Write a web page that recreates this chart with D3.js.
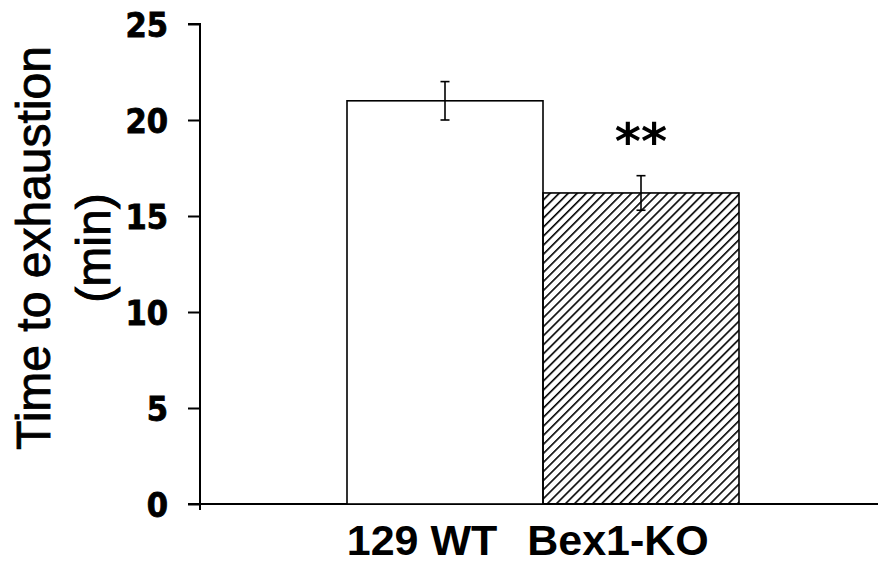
<!DOCTYPE html>
<html>
<head>
<meta charset="utf-8">
<script src="https://cdnjs.cloudflare.com/ajax/libs/d3/7.8.5/d3.min.js"></script>
<style>
  body { margin: 0; background: #fff; }
  svg { display: block; }
</style>
</head>
<body>
<svg id="chart"></svg>
<script>
const groups = ['129 WT', 'Bex1-KO']
const means = [21.0, 16.2]
const errors = [1.0, 0.9]
const yTicks = [0, 5, 10, 15, 20, 25]
const stars = ['', '**']

const width = 878, height = 565

const svg = d3.select('#chart')
  .attr('width', width)
  .attr('height', height)

// hatch for the KO bar
const defs = svg.append('defs')
defs.append('pattern')
  .attr('id', 'hatch')
  .attr('patternUnits', 'userSpaceOnUse')
  .attr('width', 6.4)
  .attr('height', 6.4)
  .attr('patternTransform', 'rotate(45)')
  .append('line')
  .attr('x1', 0).attr('y1', -1)
  .attr('x2', 0).attr('y2', 7.4)
  .attr('stroke', '#000')
  .attr('stroke-width', 3.2)

const yScale = d3.scaleLinear()
  .domain([0, 25])
  .range([504, 24])

const xScale = d3.scaleBand()
  .domain(groups)
  .range([347, 739])
  .padding(0)

const axisX = 200

// y-axis
const yAxis = svg.append('g')
  .attr('transform', `translate(${axisX}, 0)`)
  .call(d3.axisLeft(yScale).tickValues(yTicks).tickSize(12).tickPadding(20))
yAxis.select('.domain')
  .attr('d', `M-12,${yScale(25)}H0V${yScale(0)}`)
  .attr('stroke-width', 2)
yAxis.selectAll('.tick line').attr('stroke-width', 2)
yAxis.selectAll('.tick text')
  .attr('font-family', 'DejaVu Sans Condensed, DejaVu Sans')
  .attr('font-stretch', 'condensed')
  .attr('font-weight', 'bold')
  .attr('font-size', 34)
  .attr('dy', '0.36em')
  .attr('fill', '#000')
  .attr('stroke', '#000')
  .attr('stroke-width', 0.8)

// x-axis line
svg.append('line')
  .attr('x1', axisX - 12).attr('x2', width)
  .attr('y1', yScale(0)).attr('y2', yScale(0))
  .attr('stroke', '#000')
  .attr('stroke-width', 2.2)
svg.append('line')
  .attr('x1', axisX).attr('x2', axisX)
  .attr('y1', yScale(0)).attr('y2', yScale(0) + 6)
  .attr('stroke', '#000')
  .attr('stroke-width', 2)

// bars
svg.selectAll('.bar')
  .data(means)
  .enter()
  .append('rect')
  .attr('class', 'bar')
  .attr('x', (d, i) => xScale(groups[i]))
  .attr('y', d => yScale(d))
  .attr('width', xScale.bandwidth())
  .attr('height', d => yScale(0) - yScale(d))
  .attr('fill', (d, i) => i === 0 ? '#fff' : 'url(#hatch)')
  .attr('stroke', '#000')
  .attr('stroke-width', 1.6)

// error bars
const errG = svg.selectAll('.err')
  .data(means)
  .enter()
  .append('g')
  .attr('class', 'err')
  .attr('stroke', '#000')
  .attr('stroke-width', 1.6)
errG.append('line')
  .attr('x1', (d, i) => xScale(groups[i]) + xScale.bandwidth() / 2)
  .attr('x2', (d, i) => xScale(groups[i]) + xScale.bandwidth() / 2)
  .attr('y1', (d, i) => yScale(d + errors[i]))
  .attr('y2', (d, i) => yScale(d - errors[i]))
errG.append('line')
  .attr('x1', (d, i) => xScale(groups[i]) + xScale.bandwidth() / 2 - 4.5)
  .attr('x2', (d, i) => xScale(groups[i]) + xScale.bandwidth() / 2 + 4.5)
  .attr('y1', (d, i) => yScale(d + errors[i]))
  .attr('y2', (d, i) => yScale(d + errors[i]))
errG.append('line')
  .attr('x1', (d, i) => xScale(groups[i]) + xScale.bandwidth() / 2 - 4.5)
  .attr('x2', (d, i) => xScale(groups[i]) + xScale.bandwidth() / 2 + 4.5)
  .attr('y1', (d, i) => yScale(d - errors[i]))
  .attr('y2', (d, i) => yScale(d - errors[i]))

// significance stars
svg.selectAll('.star')
  .data(means)
  .enter()
  .append('text')
  .attr('class', 'star')
  .attr('x', (d, i) => xScale(groups[i]) + xScale.bandwidth() / 2)
  .attr('y', (d, i) => yScale(d + errors[i]) - 17)
  .attr('text-anchor', 'middle')
  .attr('font-family', 'DejaVu Sans')
  .attr('font-weight', 'bold')
  .attr('font-size', 50)
  .text((d, i) => stars[i])

// category labels
svg.selectAll('.cat')
  .data(groups)
  .enter()
  .append('text')
  .attr('class', 'cat')
  .attr('x', d => xScale(d) + xScale.bandwidth() / 2 - 23)
  .attr('y', 555)
  .attr('text-anchor', 'middle')
  .attr('font-family', 'Liberation Sans, Arial, sans-serif')
  .attr('font-weight', 'bold')
  .attr('font-size', 43)
  .text(d => d)

// y-axis title
const title = svg.append('text')
  .attr('transform', `translate(50, 248) rotate(-90)`)
  .attr('text-anchor', 'middle')
  .attr('font-family', 'Liberation Sans, Arial, sans-serif')
  .attr('font-size', 48)
  .attr('stroke', '#000')
  .attr('stroke-width', 0.9)
title.append('tspan').attr('x', 0).attr('y', 0).text('Time to exhaustion')
title.append('tspan').attr('x', 0).attr('y', 60).text('(min)')
</script>
</body>
</html>
